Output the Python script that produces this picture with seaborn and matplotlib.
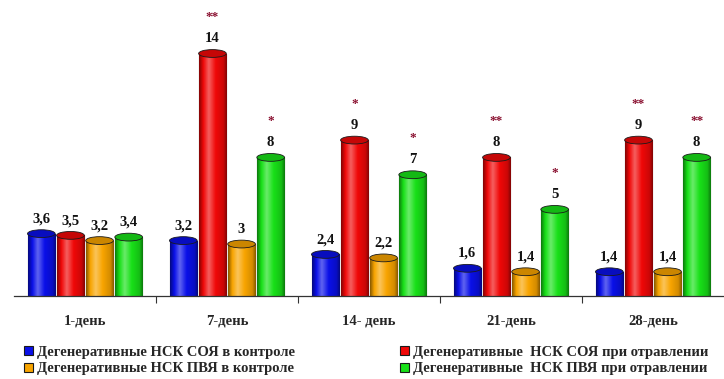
import seaborn as sns
import pandas as pd
import numpy as np
import matplotlib.pyplot as plt
from matplotlib.colors import LinearSegmentedColormap, to_rgb
from matplotlib.patches import Ellipse

days = ["1-день", "7-день", "14- день", "21-день", "28-день"]
series = [
    "Дегенеративные НСК СОЯ в контроле",
    "Дегенеративные  НСК СОЯ при отравлении",
    "Дегенеративные НСК ПВЯ в контроле",
    "Дегенеративные  НСК ПВЯ при отравлении",
]
soya_control = [3.6, 3.2, 2.4, 1.6, 1.4]
soya_poison = [3.5, 14, 9, 8, 9]
pvya_control = [3.2, 3, 2.2, 1.4, 1.4]
pvya_poison = [3.4, 8, 7, 5, 8]
stars_soya_poison = ["", "**", "*", "**", "**"]
stars_pvya_poison = ["", "*", "*", "*", "**"]

colors = ["#0a10e8", "#f00808", "#f8a400", "#18e018"]

rows = []
for name, vals in zip(series, [soya_control, soya_poison, pvya_control, pvya_poison]):
    for d, v in zip(days, vals):
        rows.append({"day": d, "value": v, "series": name})
df = pd.DataFrame(rows)

sns.set_style("white")
plt.rcParams["font.family"] = ["Liberation Serif", "DejaVu Serif"]
plt.rcParams["font.weight"] = "bold"

fig = plt.figure(figsize=(7.24, 3.79), dpi=100)
ax = fig.add_axes([14 / 724, 83 / 379, 710 / 724, 291 / 379])

sns.barplot(data=df, x="day", y="value", hue="series", hue_order=series,
            palette=colors, saturation=1, width=0.82, gap=0.05,
            edgecolor="#1a1a1a", linewidth=0.8, ax=ax)


def shade(c):
    c = np.array(to_rgb(c))
    dark = c * 0.55
    light = c + (1 - c) * 0.35
    return LinearSegmentedColormap.from_list(
        "cyl", [(0, dark), (0.15, c), (0.35, light), (0.6, c), (0.88, c * 0.85), (1, dark)])


# cylinder-like shading on top of each bar
grad = np.linspace(0, 1, 64).reshape(1, -1)
cap_h = 0.45
all_stars = [None, stars_soya_poison, None, stars_pvya_poison]
for cont, col, stars in zip(ax.containers, colors, all_stars):
    cmap = shade(col)
    for i, bar in enumerate(cont):
        x0, w, h = bar.get_x(), bar.get_width(), bar.get_height()
        im = ax.imshow(grad, cmap=cmap, aspect="auto", extent=(x0, x0 + w, 0, h),
                       zorder=bar.get_zorder() + 0.1)
        im.set_clip_path(bar)
        cap_col = np.array(to_rgb(col)) * 0.82
        ax.add_patch(Ellipse((x0 + w / 2, h), w, cap_h, facecolor=cap_col,
                             edgecolor="#1a1a1a", linewidth=0.6,
                             zorder=bar.get_zorder() + 0.2))
        xc = x0 + w / 2
        ax.annotate(f"{h:g}".replace(".", ","), (xc, h), xytext=(0, 6),
                    textcoords="offset points", ha="center", va="bottom",
                    fontsize=10.5, fontweight="bold", color="#111111")
        if stars and stars[i]:
            ax.annotate(stars[i], (xc, h), xytext=(0, 22),
                        textcoords="offset points", ha="center", va="bottom",
                        fontsize=9.5, fontweight="bold", color="#8a1030")

ax.set_xlim(-0.5, 4.5)
ax.set_ylim(0, 16.8)

sns.despine(ax=ax, left=True, top=True, right=True)
ax.spines["bottom"].set_color("#333333")
ax.spines["bottom"].set_linewidth(0.9)
ax.set_yticks([])
ax.set_xlabel("")
ax.set_ylabel("")
ax.set_xticks([0.5, 1.5, 2.5, 3.5], minor=True)
ax.tick_params(axis="x", which="major", length=0, pad=13, labelsize=10.5)
ax.tick_params(axis="x", which="minor", length=5, width=0.8, color="#333333",
               direction="out", bottom=True)
for lbl in ax.get_xticklabels():
    lbl.set_fontweight("bold")

handles, labels = ax.get_legend_handles_labels()
ax.get_legend().remove()
order = [0, 2, 1, 3]
fig.legend([handles[k] for k in order], [labels[k] for k in order],
           loc="lower left", bbox_to_anchor=(0.015, -0.025), ncol=2,
           frameon=False, handlelength=0.6, handleheight=0.6,
           handletextpad=0.3, columnspacing=7.2, labelspacing=0.25,
           prop={"weight": "bold", "size": 10.5})

fig.savefig("out.png", dpi=100)
